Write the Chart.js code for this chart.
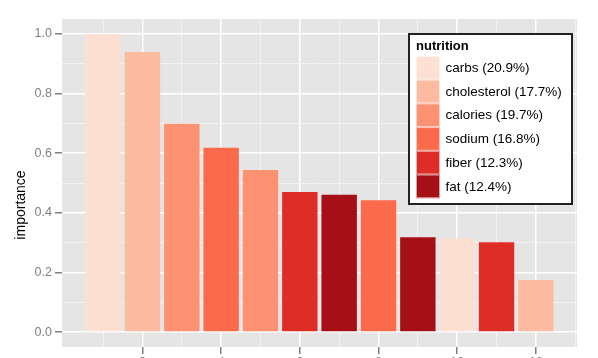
<!DOCTYPE html>
<html>
<head>
<meta charset="utf-8">
<script src="https://cdn.jsdelivr.net/npm/chart.js@4.4.0/dist/chart.umd.min.js"></script>
<style>
  html, body { margin: 0; padding: 0; background: #fff; }
  #wrap { width: 598px; height: 358px; }
</style>
</head>
<body>
<div id="wrap"><canvas id="chart" width="598" height="358"></canvas></div>
<script>
// bar positions, which nutrient each bar is, and its importance
const barX = [1, 2, 3, 4, 5, 6, 7, 8, 9, 10, 11, 12];
const barNutrient = ['carbs', 'cholesterol', 'calories', 'sodium', 'calories', 'fiber',
                     'fat', 'sodium', 'fat', 'carbs', 'fiber', 'cholesterol'];
const importance = [1.0, 0.939, 0.699, 0.618, 0.544, 0.470, 0.461, 0.442, 0.318, 0.314, 0.301, 0.175];

// legend entries
const nutrients = ['carbs', 'cholesterol', 'calories', 'sodium', 'fiber', 'fat'];
const shares = [20.9, 17.7, 19.7, 16.8, 12.3, 12.4];

// ticks: major ones get labels, the others are minor grid lines
const xMajor = [2, 4, 6, 8, 10, 12];
const xMinor = [1, 3, 5, 7, 9, 11, 13];
const yMajor = [0, 0.2, 0.4, 0.6, 0.8, 1.0];
const yMinor = [0.1, 0.3, 0.5, 0.7, 0.9];

const reds = ['#fee0d2', '#fcbba1', '#fc9272', '#fb6a4a', '#de2d26', '#a50f15'];
const FONT = '"Liberation Sans", Arial, Helvetica, sans-serif';

function isMajor(list, v) {
  return list.some(m => Math.abs(m - v) < 1e-9);
}

// grey panel behind the grid
const panelBg = {
  id: 'panelBg',
  beforeDraw(chart) {
    const a = chart.chartArea;
    const ctx = chart.ctx;
    ctx.save();
    ctx.fillStyle = '#e5e5e5';
    ctx.fillRect(a.left, a.top, a.right - a.left, a.bottom - a.top);
    ctx.restore();
  }
};

// y axis title, a bit below the panel centre like the original
const yTitle = {
  id: 'yTitle',
  afterDraw(chart) {
    const ctx = chart.ctx;
    ctx.save();
    ctx.translate(21, 205);
    ctx.rotate(-Math.PI / 2);
    ctx.fillStyle = '#000';
    ctx.font = '14px ' + FONT;
    ctx.textAlign = 'center';
    ctx.textBaseline = 'middle';
    ctx.fillText('importance', 0, 0);
    ctx.restore();
  }
};

// ggplot style legend box
const legendBox = {
  id: 'legendBox',
  afterDraw(chart) {
    const ctx = chart.ctx;
    const x = 409, y = 34, w = 163, h = 170;
    ctx.save();
    ctx.fillStyle = '#fff';
    ctx.fillRect(x, y, w, h);
    ctx.strokeStyle = '#222';
    ctx.lineWidth = 2;
    ctx.strokeRect(x, y, w, h);

    ctx.fillStyle = '#000';
    ctx.font = 'bold 13px ' + FONT;
    ctx.textBaseline = 'alphabetic';
    ctx.fillText('nutrition', 416, 50);

    const keyH = 23.7;
    ctx.font = '13.5px ' + FONT;
    ctx.textBaseline = 'middle';
    nutrients.forEach((n, i) => {
      const ky = 56 + i * keyH;
      ctx.fillStyle = reds[i];
      ctx.fillRect(416, ky, 24, keyH);
      ctx.strokeStyle = 'rgba(255,255,255,0.6)';
      ctx.lineWidth = 1;
      ctx.strokeRect(416.5, ky + 0.5, 23, keyH - 1);
      ctx.fillStyle = '#000';
      ctx.fillText(n + ' (' + shares[i].toFixed(1) + '%)', 445.5, ky + keyH / 2 + 0.5);
    });
    ctx.restore();
  }
};

new Chart(document.getElementById('chart'), {
  type: 'bar',
  data: {
    datasets: [{
      data: barX.map((x, i) => ({ x: x, y: importance[i] })),
      backgroundColor: barNutrient.map(n => reds[nutrients.indexOf(n)]),
      borderWidth: 0,
      categoryPercentage: 1,
      barPercentage: 0.9
    }]
  },
  options: {
    responsive: false,
    animation: false,
    devicePixelRatio: 1,
    layout: { padding: { top: 19, right: 21, left: 0, bottom: 0 } },
    plugins: { legend: { display: false }, tooltip: { enabled: false } },
    scales: {
      x: {
        type: 'linear',
        min: -0.045,
        max: 13.045,
        offset: false,
        afterBuildTicks: s => {
          s.ticks = xMajor.concat(xMinor).sort((a, b) => a - b).map(v => ({ value: v }));
        },
        afterFit: s => { s.height = 11; },
        border: { display: false },
        grid: {
          offset: false,
          color: c => isMajor(xMajor, c.tick.value) ? '#ffffff' : '#f2f2f2',
          lineWidth: c => isMajor(xMajor, c.tick.value) ? 1.5 : 1,
          tickColor: c => isMajor(xMajor, c.tick.value) ? '#7f7f7f' : 'rgba(0,0,0,0)',
          tickWidth: 1.5,
          tickLength: 7
        },
        ticks: {
          autoSkip: false,
          maxRotation: 0,
          padding: 1,
          color: '#7f7f7f',
          font: { family: FONT, size: 12.5 },
          callback: v => isMajor(xMajor, v) ? String(v) : ''
        }
      },
      y: {
        type: 'linear',
        min: -0.05,
        max: 1.05,
        afterBuildTicks: s => {
          s.ticks = yMajor.concat(yMinor).sort((a, b) => a - b).map(v => ({ value: v }));
        },
        afterFit: s => { s.width = 62; },
        border: { display: false },
        grid: {
          color: c => isMajor(yMajor, c.tick.value) ? '#ffffff' : '#f2f2f2',
          lineWidth: c => isMajor(yMajor, c.tick.value) ? 1.5 : 1,
          tickColor: c => isMajor(yMajor, c.tick.value) ? '#7f7f7f' : 'rgba(0,0,0,0)',
          tickWidth: 1.5,
          tickLength: 7
        },
        ticks: {
          autoSkip: false,
          padding: 3,
          color: '#7f7f7f',
          font: { family: FONT, size: 12.5 },
          callback: v => isMajor(yMajor, v) ? v.toFixed(1) : ''
        }
      }
    }
  },
  plugins: [panelBg, yTitle, legendBox]
});
</script>
</body>
</html>
